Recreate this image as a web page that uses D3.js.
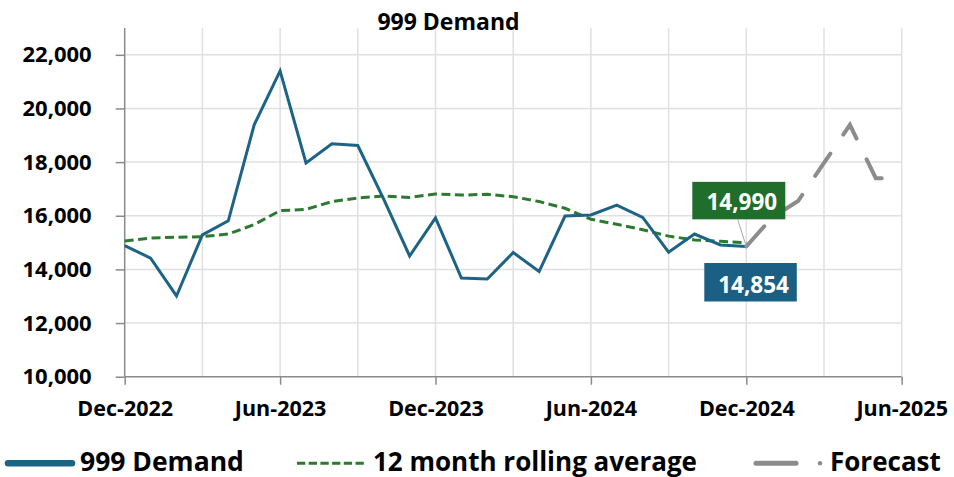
<!DOCTYPE html>
<html>
<head>
<meta charset="utf-8">
<script src="https://cdn.jsdelivr.net/npm/d3@7"></script>
<style>
  html, body { margin: 0; padding: 0; background: #fff; }
  svg { display: block; font-family: "Open Sans", "Noto Sans", sans-serif; font-weight: 700; }
</style>
</head>
<body>
<svg id="chart" width="954" height="477"></svg>
<script>
// Monthly categories, Dec-2022 .. Jun-2025
const months = [
  "Dec-2022","Jan-2023","Feb-2023","Mar-2023","Apr-2023","May-2023","Jun-2023",
  "Jul-2023","Aug-2023","Sep-2023","Oct-2023","Nov-2023","Dec-2023",
  "Jan-2024","Feb-2024","Mar-2024","Apr-2024","May-2024","Jun-2024",
  "Jul-2024","Aug-2024","Sep-2024","Oct-2024","Nov-2024","Dec-2024",
  "Jan-2025","Feb-2025","Mar-2025","Apr-2025","May-2025","Jun-2025"
];
const tickLabels = ["Dec-2022","Jun-2023","Dec-2023","Jun-2024","Dec-2024","Jun-2025"];
const gridMonths = ["Dec-2022","Mar-2023","Jun-2023","Sep-2023","Dec-2023","Mar-2024",
  "Jun-2024","Sep-2024","Dec-2024","Mar-2025","Jun-2025"];
const yTicks = [10000, 12000, 14000, 16000, 18000, 20000, 22000];

// 999 Demand, Dec-2022 .. Dec-2024
const demand = [14890, 14420, 13010, 15290, 15810, 19390, 21400, 17970, 18680, 18620,
  16620, 14500, 15920, 13680, 13640, 14630, 13920, 15990, 16030, 16400, 15940, 14640,
  15320, 14910, 14854];
// 12 month rolling average, Dec-2022 .. Dec-2024
const rolling = [15060, 15170, 15200, 15220, 15320, 15670, 16190, 16240, 16530, 16660,
  16740, 16680, 16815, 16770, 16800, 16710, 16530, 16280, 15870, 15680, 15480, 15240,
  15100, 15050, 14990];
// Forecast, Dec-2024 .. Jun-2025
const forecastMonths = ["Dec-2024","Jan-2025","Feb-2025","Mar-2025","Apr-2025","May-2025","Jun-2025"];
const forecast = [14854, 15940, 16550, 17970, 19390, 17400, 17400];

const demandMonths = months.slice(0, demand.length);

const C = {
  blue: "#1d6385", blueBox: "#1b6084",
  green: "#2c7a30", greenBox: "#1f6e2b",
  grey: "#8c8c8c", grid: "#e0e0e0", axis: "#8a8a8a"
};

const svg = d3.select("#chart");
const plotL = 124.7, plotR = 901.7, plotT = 28, plotB = 376.7;

const x = d3.scalePoint().domain(months).range([plotL, plotR]);
const y = d3.scaleLinear().domain([10000, 23000]).range([plotB, plotT]);

// grid
svg.append("g").selectAll("line").data(yTicks.filter(d => d > 10000)).join("line")
  .attr("x1", plotL).attr("x2", plotR)
  .attr("y1", d => y(d)).attr("y2", d => y(d))
  .attr("stroke", C.grid).attr("stroke-width", 1.5);
svg.append("g").selectAll("line").data(gridMonths.slice(1)).join("line")
  .attr("x1", d => x(d)).attr("x2", d => x(d))
  .attr("y1", plotT).attr("y2", plotB)
  .attr("stroke", C.grid).attr("stroke-width", 1.5);

// axes
const yAxis = svg.append("g").attr("transform", `translate(${plotL},0)`)
  .call(d3.axisLeft(y).tickValues(yTicks).tickSize(9).tickPadding(24)
    .tickFormat(d3.format(",")));
yAxis.select(".domain").attr("d", `M0,${plotT}V${plotB}`);
const xAxis = svg.append("g").attr("transform", `translate(0,${plotB})`)
  .call(d3.axisBottom(x).tickValues(tickLabels).tickSize(8).tickPadding(16));
xAxis.select(".domain").attr("d", `M${plotL},0H${plotR}`);
[yAxis, xAxis].forEach(g => {
  g.selectAll(".domain, .tick line").attr("stroke", C.axis).attr("stroke-width", 1.5);
  g.selectAll("text").attr("fill", "#000")
    .style("font-family", "'Open Sans', sans-serif").style("font-weight", 700);
});
yAxis.selectAll("text").style("font-size", "22px");
xAxis.selectAll("text").style("font-size", "21.5px");

// series
const line = (ms) => d3.line().x((d, i) => x(ms[i])).y(d => y(d));

svg.append("path").datum(rolling)
  .attr("d", line(demandMonths))
  .attr("fill", "none").attr("stroke", C.green).attr("stroke-width", 3)
  .attr("stroke-dasharray", "9,4.5");

svg.append("path").datum(demand)
  .attr("d", line(demandMonths))
  .attr("fill", "none").attr("stroke", C.blue).attr("stroke-width", 3)
  .attr("stroke-linejoin", "miter");

svg.append("path").datum(forecast)
  .attr("d", line(forecastMonths))
  .attr("fill", "none").attr("stroke", C.grey).attr("stroke-width", 4)
  .attr("stroke-linecap", "round").attr("stroke-dasharray", "27,23");

// data labels for the last month
const lastM = "Dec-2024";
const lastAvg = rolling[rolling.length - 1];
const lastDemand = demand[demand.length - 1];
const px = x(lastM);
const fmt = d3.format(",");

svg.append("line")
  .attr("x1", px - 8.5).attr("y1", y(lastAvg) - 23)
  .attr("x2", px).attr("y2", y(lastDemand))
  .attr("stroke", "#aaaaaa").attr("stroke-width", 1);

function label(val, color, bx, by, w, h, base) {
  svg.append("rect").attr("x", bx).attr("y", by).attr("width", w).attr("height", h)
    .attr("fill", color);
  svg.append("text").attr("x", bx + w / 2 + 3).attr("y", by + base)
    .attr("text-anchor", "middle").attr("fill", "#fff")
    .style("font-size", "22.5px").text(fmt(val));
}
label(lastAvg, C.greenBox, px - 54, y(lastAvg) - 61, 93, 37.5, 28.5);
label(lastDemand, C.blueBox, px - 42, y(lastDemand) + 16.5, 92.5, 38.5, 29.5);

// title
svg.append("text").attr("x", 448.5).attr("y", 30).attr("text-anchor", "middle")
  .style("font-size", "23px").attr("fill", "#000").text("999 Demand");

// legend
const lg = svg.append("g");
const ly = 463.3, lb = 470.5;
lg.append("line").attr("x1", 8).attr("x2", 72).attr("y1", ly).attr("y2", ly)
  .attr("stroke", C.blue).attr("stroke-width", 6.5).attr("stroke-linecap", "round");
lg.append("text").attr("x", 80).attr("y", lb).style("font-size", "26.5px").text("999 Demand");
lg.append("line").attr("x1", 297).attr("x2", 364).attr("y1", ly).attr("y2", ly)
  .attr("stroke", C.green).attr("stroke-width", 3).attr("stroke-dasharray", "8.3,3.4");
lg.append("text").attr("x", 373).attr("y", lb).style("font-size", "26px")
  .text("12 month rolling average");
lg.append("line").attr("x1", 756).attr("x2", 796).attr("y1", ly).attr("y2", ly)
  .attr("stroke", C.grey).attr("stroke-width", 5).attr("stroke-linecap", "round");
lg.append("circle").attr("cx", 820).attr("cy", ly).attr("r", 2.2).attr("fill", C.grey);
lg.append("text").attr("x", 830).attr("y", lb).style("font-size", "26px").text("Forecast");
</script>
</body>
</html>
